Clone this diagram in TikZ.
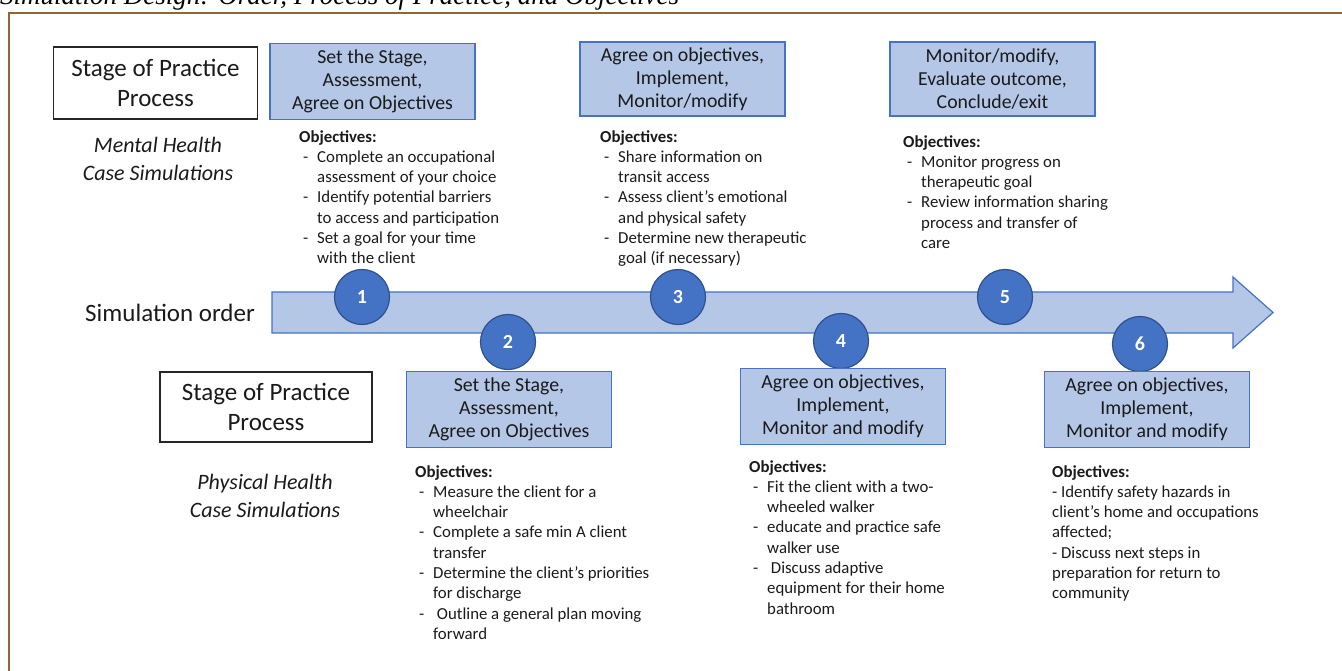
\documentclass[tikz,border=0pt]{standalone}
\usepackage{fontspec}
\setmainfont{Carlito}
\newfontfamily\titlefont{Liberation Serif}
\definecolor{boxfill}{HTML}{B4C7E7}
\definecolor{boxline}{HTML}{4472C4}
\definecolor{circfill}{HTML}{4472C4}
\definecolor{circline}{HTML}{2F528F}
\definecolor{framebrown}{HTML}{8C6A2E}
\definecolor{txt}{HTML}{1A1A1A}
\newcommand\bitem[1]{\hspace*{4pt}\makebox[14pt][l]{-}#1}
\newcommand\bcont[1]{\hspace*{18pt}#1}
\begin{document}
\begin{tikzpicture}[x=1pt,y=-1pt,
  bluebox/.style={draw=boxline,fill=boxfill,line width=1.4pt,minimum width=205pt,minimum height=76pt,inner sep=0pt,align=center,text=txt,font=\fontsize{19.8}{23}\selectfont},
  whitebox/.style={draw=black!85,fill=white,line width=1.4pt,minimum width=204pt,minimum height=72pt,inner sep=0pt,align=center,text=txt,font=\fontsize{25}{29.5}\selectfont},
  numcirc/.style={circle,draw=circline,fill=circfill,line width=1.2pt,minimum size=55pt,inner sep=0pt,text=white,font=\fontsize{20}{22}\selectfont\bfseries},
  objtext/.style={anchor=north west,inner sep=0pt,align=left,text=txt,font=\fontsize{16.8}{20.3}\selectfont},
  caselabel/.style={align=center,inner sep=0pt,text=txt,font=\fontsize{22}{28}\selectfont\itshape}]
\useasboundingbox (0,0) rectangle (1342,671);
% title and frame
\node[anchor=base west,inner sep=0pt,font=\titlefont\fontsize{27}{29}\selectfont\itshape] (title) at (0,5) {Simulation Design: Order, Process of Practice, and Objectives};
\draw[framebrown,line width=2.6pt] (9,700) -- (9,13) -- (1360,13);
% arrow
\draw[boxline,fill=boxfill,line width=1.2pt] (272,292) -- (1233,292) -- (1233,277) -- (1273,312.5) -- (1233,348) -- (1233,333) -- (272,333) -- cycle;
\node[anchor=east,inner sep=0pt,text=txt,font=\fontsize{25}{28}\selectfont] (simorder) at (255,313) {Simulation order};
% circles
\node[numcirc] (c1) at (362,297) {1};
\node[numcirc] (c2) at (508,342) {2};
\node[numcirc] (c3) at (678,297) {3};
\node[numcirc] (c4) at (841,341) {4};
\node[numcirc] (c5) at (1005,297) {5};
\node[numcirc] (c6) at (1140,344) {6};
% top row
\node[whitebox] (spTop) at (155.5,83) {Stage of Practice\\Process};
\node[bluebox] (b1) at (372.5,81.5) {Set the Stage,\\Assessment,\\Agree on Objectives};
\node[bluebox,minimum height=74pt] (b3) at (682.5,79) {Agree on objectives,\\Implement,\\Monitor/modify};
\node[bluebox,minimum height=74pt] (b5) at (992.5,79) {Monitor/modify,\\Evaluate outcome,\\Conclude/exit};
\node[caselabel] (mh) at (158,159) {Mental Health\\Case Simulations};
\node[objtext] (o1) at (299,130) {\textbf{Objectives:}\\
\bitem{Complete an occupational}\\
\bcont{assessment of your choice}\\
\bitem{Identify potential barriers}\\
\bcont{to access and participation}\\
\bitem{Set a goal for your time}\\
\bcont{with the client}};
\node[objtext] (o3) at (600,130) {\textbf{Objectives:}\\
\bitem{Share information on}\\
\bcont{transit access}\\
\bitem{Assess client’s emotional}\\
\bcont{and physical safety}\\
\bitem{Determine new therapeutic}\\
\bcont{goal (if necessary)}};
\node[objtext] (o5) at (903,135) {\textbf{Objectives:}\\
\bitem{Monitor progress on}\\
\bcont{therapeutic goal}\\
\bitem{Review information sharing}\\
\bcont{process and transfer of}\\
\bcont{care}};
% bottom row
\node[whitebox,minimum width=212pt,minimum height=70pt] (spBot) at (266,407) {Stage of Practice\\Process};
\node[bluebox] (b2) at (509,409.5) {Set the Stage,\\Assessment,\\Agree on Objectives};
\node[bluebox] (b4) at (843,406.5) {Agree on objectives,\\Implement,\\Monitor and modify};
\node[bluebox] (b6) at (1147,409.5) {Agree on objectives,\\Implement,\\Monitor and modify};
\node[caselabel] (ph) at (265,496) {Physical Health\\Case Simulations};
\node[objtext] (o2) at (415,465) {\textbf{Objectives:}\\
\bitem{Measure the client for a}\\
\bcont{wheelchair}\\
\bitem{Complete a safe min A client}\\
\bcont{transfer}\\
\bitem{Determine the client’s priorities}\\
\bcont{for discharge}\\
\bitem{\ Outline a general plan moving}\\
\bcont{forward}};
\node[objtext] (o4) at (749,460) {\textbf{Objectives:}\\
\bitem{Fit the client with a two-}\\
\bcont{wheeled walker}\\
\bitem{educate and practice safe}\\
\bcont{walker use}\\
\bitem{\ Discuss adaptive}\\
\bcont{equipment for their home}\\
\bcont{bathroom}};
\node[objtext] (o6) at (1052,465) {\textbf{Objectives:}\\
- Identify safety hazards in\\
client’s home and occupations\\
affected;\\
- Discuss next steps in\\
preparation for return to\\
community};
\end{tikzpicture}
\end{document}
